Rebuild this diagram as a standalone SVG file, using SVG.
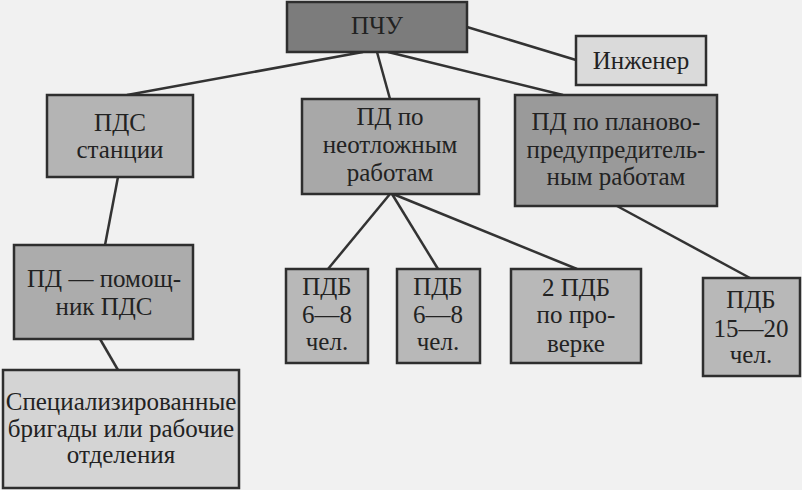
<svg xmlns="http://www.w3.org/2000/svg" width="802" height="490" viewBox="0 0 802 490">
<style>
.bx{stroke:#2e2e2e;stroke-width:2.5}
.t{font-family:"Times New Roman",Tinos,"Noto Serif","Liberation Serif","DejaVu Serif",FreeSerif,Georgia,serif;font-size:25px;fill:#222;text-anchor:middle}
.c line{stroke:#333;stroke-width:2.5}
</style>
<rect width="802" height="490" fill="#f1f1f1"/>
<g class="c" id="connectors">
<line x1="363" y1="52" x2="127" y2="95"/>
<line x1="377" y1="52" x2="390" y2="99"/>
<line x1="467" y1="27" x2="576" y2="60"/>
<line x1="388" y1="52" x2="563" y2="95"/>
<line x1="118" y1="177" x2="105" y2="245"/>
<line x1="100" y1="339" x2="118" y2="370"/>
<line x1="390" y1="194" x2="328" y2="269"/>
<line x1="392" y1="194" x2="438" y2="269"/>
<line x1="393" y1="194" x2="577" y2="269"/>
<line x1="617" y1="206" x2="750" y2="278"/>
</g>
<g id="pchu"><rect class="bx" x="287" y="2" width="180" height="50" fill="#7c7c7c"/><text class="t" x="377" y="34">ПЧУ</text></g>
<g id="inzhener"><rect class="bx" x="576" y="36" width="130" height="49" fill="#dadada"/><text class="t" x="641" y="69">Инженер</text></g>
<g id="pds"><rect class="bx" x="47" y="95" width="146" height="82" fill="#b4b4b4"/><text class="t" x="120" y="131">ПДС</text><text class="t" x="120" y="158">станции</text></g>
<g id="pd-neotl"><rect class="bx" x="302" y="99" width="177" height="95" fill="#a8a8a8"/><text class="t" x="390" y="125">ПД по</text><text class="t" x="390" y="153">неотложным</text><text class="t" x="390" y="181">работам</text></g>
<g id="pd-plan"><rect class="bx" x="515" y="95" width="202" height="111" fill="#9a9a9a"/><text class="t" x="616" y="130">ПД по планово-</text><text class="t" x="616" y="158">предупредитель-</text><text class="t" x="616" y="185">ным работам</text></g>
<g id="pd-pom"><rect class="bx" x="14" y="245" width="179" height="94" fill="#acacac"/><text class="t" x="104" y="287">ПД — помощ-</text><text class="t" x="104" y="315">ник ПДС</text></g>
<g id="spec"><rect class="bx" x="3" y="370" width="236" height="118" fill="#d4d4d4"/><text class="t" x="121" y="410">Специализированные</text><text class="t" x="121" y="437">бригады или рабочие</text><text class="t" x="121" y="463">отделения</text></g>
<g id="pdb1"><rect class="bx" x="286" y="269" width="82" height="94" fill="#b8b8b8"/><text class="t" x="327" y="295">ПДБ</text><text class="t" x="327" y="323">6—8</text><text class="t" x="327" y="350">чел.</text></g>
<g id="pdb2"><rect class="bx" x="397" y="269" width="83" height="94" fill="#b8b8b8"/><text class="t" x="438" y="295">ПДБ</text><text class="t" x="438" y="323">6—8</text><text class="t" x="438" y="350">чел.</text></g>
<g id="pdb-prov"><rect class="bx" x="511" y="269" width="130" height="94" fill="#b8b8b8"/><text class="t" x="576" y="296">2 ПДБ</text><text class="t" x="576" y="323">по про-</text><text class="t" x="576" y="352">верке</text></g>
<g id="pdb3"><rect class="bx" x="703" y="278" width="97" height="98" fill="#b8b8b8"/><text class="t" x="751" y="308">ПДБ</text><text class="t" x="751" y="337">15—20</text><text class="t" x="751" y="363">чел.</text></g>
</svg>
